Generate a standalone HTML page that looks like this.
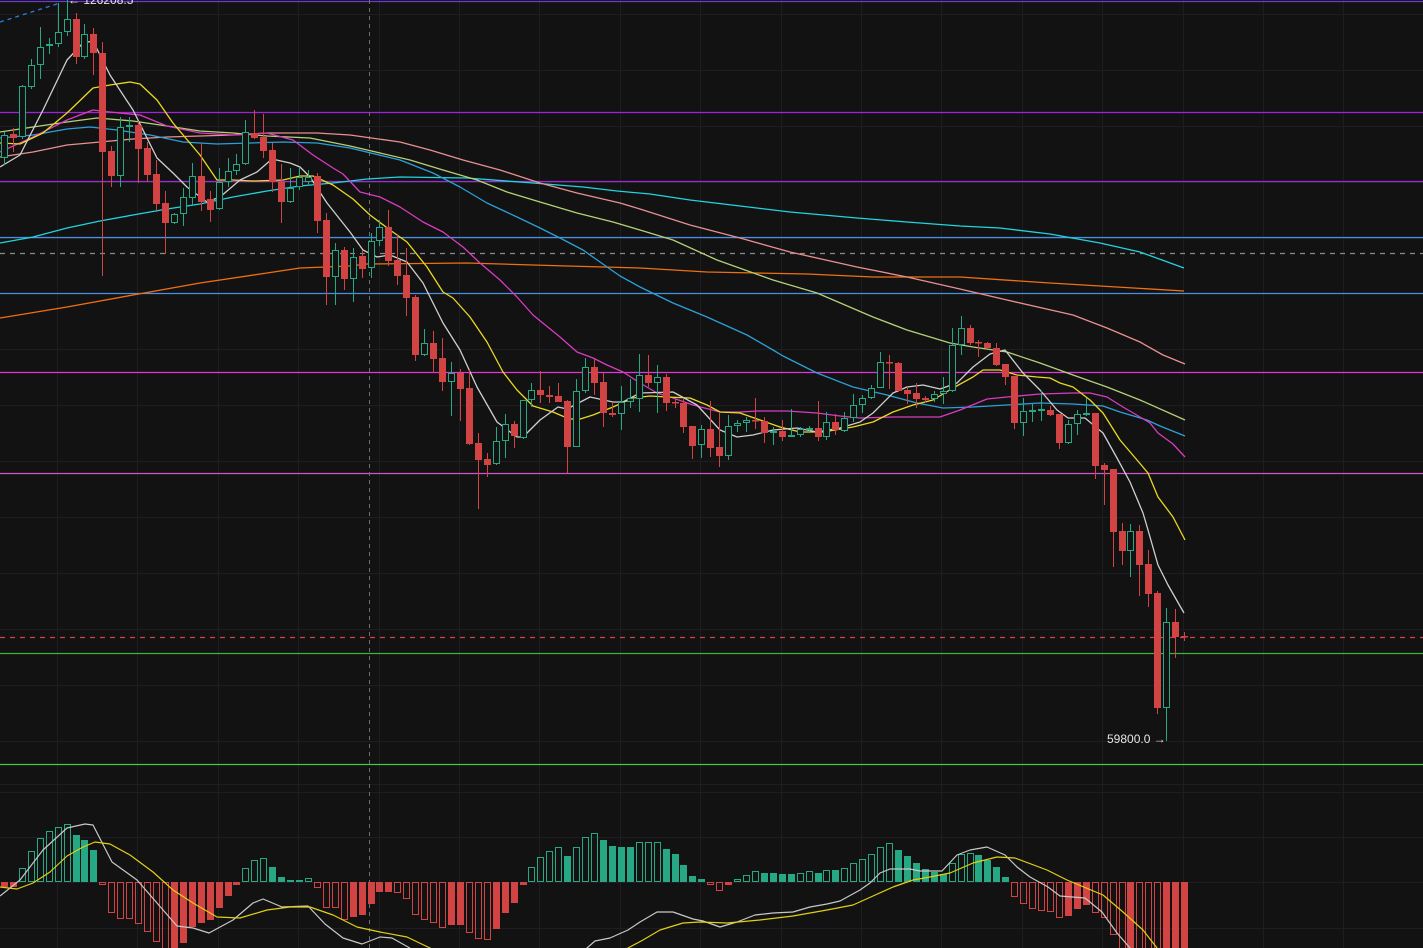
<!DOCTYPE html>
<html>
<head>
<meta charset="utf-8">
<style>
html,body{margin:0;padding:0;background:#121212;}
body{width:1423px;height:948px;overflow:hidden;}
svg{display:block;}
text{font-family:"Liberation Sans",sans-serif;}
</style>
</head>
<body>
<svg id="c" width="1423" height="948" viewBox="0 0 1423 948" xmlns="http://www.w3.org/2000/svg">
<rect width="1423" height="948" fill="#121212"/>
<g id="grid"></g>
<g id="hl"></g>
<g id="ma"></g>
<g id="cd"></g>
<g id="mc"></g>
<text x="1107" y="743" font-size="12" fill="#e6e6e6">59800.0 →</text>
<text x="68" y="4" font-size="12" fill="#e6e6e6">←  126208.5</text>
</svg>
<script>
(function(){
var NS='http://www.w3.org/2000/svg';
function X(i){return 4+8.94*i;}
var g='',i,k;
// grid
for(k=0;k<17;k++){var gx=Math.round(57+80.4*k)+0.5;g+='<line x1="'+gx+'" y1="0" x2="'+gx+'" y2="948" stroke="#1e1e22" stroke-width="1"/>';}
var hy=[14,70,126,182,238,293,349,405,461,517,573,629,685,741,784,792,837,882,928];
hy.forEach(function(y){g+='<line x1="0" y1="'+(y+0.5)+'" x2="1423" y2="'+(y+0.5)+'" stroke="#1e1e22" stroke-width="1"/>';});
document.getElementById('grid').innerHTML=g;

// horizontal level lines
var h='';
function L(y,c,d){h+='<line x1="0" y1="'+y+'" x2="1423" y2="'+y+'" stroke="'+c+'" stroke-width="1.2"'+(d?' stroke-dasharray="'+d+'"':'')+'/>';}
L(1.5,'#6c3bd6');
L(112.5,'#a420e0');
L(181.5,'#9c2cd4');
L(237.5,'#4a8fe0');
L(293.5,'#4a8fe0');
L(372.5,'#e236d6');
L(473.5,'#d055c8');
L(653.5,'#3cb43c');
L(764.5,'#48c848');
L(253.5,'#8a8a8a','5,5');
L(637.5,'#d04545','5,5');
h+='<line x1="369.5" y1="0" x2="369.5" y2="948" stroke="#6e6e6e" stroke-width="1" stroke-dasharray="4,4"/>';
h+='<line x1="0" y1="22" x2="60" y2="3" stroke="#2b7fd8" stroke-width="1.3" stroke-dasharray="4,4"/>';
document.getElementById('hl').innerHTML=h;

// moving averages
function P(pts,c,w){var s='';for(var j=0;j<pts.length;j+=2){s+=(j?' ':'')+pts[j]+','+pts[j+1];}return '<polyline points="'+s+'" fill="none" stroke="'+c+'" stroke-width="'+(w||1.3)+'" stroke-linejoin="round"/>';}
var m='';
m+=P([0,318,67,307,133,295,200,283,267,273,300,268,350,266,367,264,467,263,567,266,640,268,707,272,807,274,873,277,960,277,1050,283,1100,286,1184,291],'#f07010');
m+=P([0,243,33,237,67,228,100,221,133,215,167,209,200,204,233,197,267,191,300,186,333,183,367,179,400,177,467,178,533,183,583,187,617,191,650,194,690,200,740,206,790,212,857,218,907,222,960,226,1000,228,1050,234,1100,243,1140,252,1184,268],'#20d4e0');
m+=P([0,157,33,152,67,145,100,142,133,139,167,137,200,136,233,135,267,133,317,133,350,135,400,142,430,150,463,160,500,170,540,183,577,193,620,203,640,209,690,225,740,238,790,252,857,267,907,277,960,289,1007,300,1073,315,1107,328,1140,342,1163,355,1185,364],'#e89090');
m+=P([0,132,33,127,67,122,97,118,133,121,167,126,200,131,233,133,267,136,310,138,350,146,410,160,443,170,477,180,507,192,540,202,577,213,613,222,640,230,673,240,717,260,773,280,817,293,873,317,907,330,950,343,973,347,1007,352,1040,363,1073,375,1107,387,1140,400,1185,420],'#b4d078');
m+=P([0,138,33,135,67,129,90,127,117,130,150,135,183,142,217,144,250,143,283,142,317,143,350,148,400,160,433,173,460,187,487,203,517,217,540,228,560,238,583,250,600,262,620,276,640,287,673,303,707,317,747,335,773,350,783,356,817,373,853,387,887,395,917,403,943,408,973,407,1007,405,1040,403,1073,404,1103,406,1120,412,1147,420,1160,426,1185,436],'#2c9fd8');
m+=P([0,152,33,137,67,120,93,110,110,112,140,115,167,126,200,133,233,135,267,133,293,140,313,155,333,168,343,174,360,192,380,197,400,207,423,222,443,232,463,247,480,263,500,280,517,297,533,315,560,337,577,352,593,358,607,365,623,372,640,383,657,393,673,398,693,405,720,412,740,412,757,411,787,411,817,413,840,416,860,418,893,417,940,417,960,410,987,399,1007,397,1040,394,1073,393,1090,393,1107,397,1123,407,1140,417,1150,423,1158,433,1173,444,1185,457],'#d83cc0');
m+=P([0,143,20,144,43,133,67,113,93,88,110,85,130,82,140,84,157,100,173,123,200,155,217,180,233,180,253,181,283,180,300,176,313,176,333,185,353,199,370,215,390,230,407,242,427,267,443,292,453,298,470,317,487,342,503,372,517,390,533,406,553,412,567,418,577,420,593,415,613,407,633,398,650,396,667,397,690,398,707,405,720,412,740,413,760,420,780,427,800,432,823,432,853,427,873,422,893,412,913,405,933,400,953,388,973,377,983,370,1000,370,1017,375,1037,377,1050,378,1060,383,1073,387,1090,400,1103,413,1120,440,1137,460,1148,473,1158,497,1173,517,1185,540],'#ecd820');
m+=P([0,167,20,155,43,110,67,60,83,43,93,41,110,75,133,110,157,158,173,173,187,187,207,202,220,197,240,180,257,172,272,159,290,163,300,167,310,177,327,203,350,232,363,250,377,257,390,255,407,262,423,283,443,323,460,350,477,387,497,422,517,437,523,437,540,420,558,407,567,409,590,397,613,402,623,402,640,393,673,392,697,405,720,430,737,437,753,435,773,430,797,428,817,432,840,428,860,422,873,413,893,393,907,387,923,385,940,389,957,383,973,367,990,354,1005,350,1023,373,1040,390,1057,410,1068,418,1085,418,1103,433,1117,458,1130,482,1143,513,1148,530,1158,565,1168,585,1184,613],'#cfcfcf');
document.getElementById('ma').innerHTML=m;

// candles [color, bodyTop, bodyBottom, wickTop, wickBottom]
var C=[
['g',135,158,132,165],['r',134,138,128,152],['g',86,137,85,139],['g',65,87,59,89],['g',47,65,27,79],
['g',44,46,38,54],['g',32,44,3,47],['g',19,32,0,36],['r',19,57,13,64],['g',34,57,24,59],
['r',34,53,28,75],['r',53,152,42,276],['r',151,176,146,187],['g',127,176,117,187],['g',125,127,117,142],
['r',125,149,121,183],['r',148,175,142,182],['r',174,204,160,212],['r',203,223,191,254],['g',214,223,213,224],
['g',197,214,188,226],['g',176,198,163,206],['r',176,202,143,211],['r',199,210,191,222],['g',182,209,168,210],
['g',171,182,158,187],['g',164,171,154,175],['g',132,164,120,165],['r',133,138,110,139],['r',137,151,114,158],
['r',150,182,143,192],['r',182,202,164,223],['g',188,202,168,203],['g',177,187,167,190],['g',177,182,170,186],
['r',176,221,173,233],['r',220,277,213,305],['g',250,277,243,305],['r',250,279,247,290],['g',257,279,248,302],
['r',256,269,250,278],['g',241,268,233,278],['g',227,241,220,246],['r',227,261,210,266],['r',260,276,234,285],
['r',275,298,248,316],['r',297,355,295,361],['g',343,355,329,356],['r',343,359,331,372],['r',358,382,338,391],
['g',373,382,362,416],['r',373,389,369,421],['r',388,444,370,445],['r',443,460,433,509],['r',459,465,453,477],
['g',441,464,427,465],['g',424,441,414,458],['r',424,436,421,448],['g',400,438,400,439],['g',390,400,383,407],
['r',390,395,371,403],['r',395,397,386,403],['r',396,402,383,402],['r',401,447,400,473],['g',391,447,379,447],
['g',367,391,358,393],['r',367,383,359,395],['r',382,413,373,427],['r',413,415,403,417],['g',402,414,386,430],
['g',398,402,379,408],['g',375,399,354,412],['r',375,383,355,387],['g',377,383,365,413],['r',377,403,374,411],
['r',402,403,398,408],['r',403,427,399,433],['r',426,446,426,459],['g',429,445,425,458],['r',429,448,401,457],
['r',447,456,413,467],['g',426,456,415,460],['g',423,426,420,432],['g',420,423,417,432],['r',420,421,398,429],
['r',421,433,417,443],['g',431,433,427,445],['r',431,437,420,441],['g',435,437,409,437],['g',429,435,427,437],
['g',428,430,426,432],['r',428,437,401,441],['g',422,437,412,440],['r',422,430,414,435],['g',418,431,412,432],
['g',405,418,394,422],['g',398,405,395,413],['g',388,398,385,399],['g',362,388,352,388],['r',362,363,355,389],
['r',363,391,362,392],['r',390,394,387,404],['r',393,399,383,408],['r',398,400,396,403],['g',394,399,391,402],
['g',391,394,377,404],['g',345,391,328,392],['g',328,345,316,355],['r',328,343,325,345],['r',342,343,340,357],
['r',343,348,342,349],['r',348,365,343,366],['r',364,377,364,385],['r',376,423,376,429],['g',411,423,398,436],
['g',410,412,403,422],['g',409,411,391,421],['r',410,415,406,416],['r',414,443,414,449],['g',424,443,420,444],
['g',414,424,410,435],['g',413,415,398,416],['r',413,466,413,479],['r',465,470,463,505],['r',469,532,469,567],
['r',531,551,523,565],['g',531,551,524,577],['r',531,565,525,596],['r',564,594,550,607],['r',593,708,591,714],
['g',622,708,608,741],['r',622,637,609,658],['r',636,637,632,641]
];
var RED='#d24444',GRN='#25a883';
var s='';
for(i=0;i<C.length;i++){
 var c=C[i],cx=Math.round(X(i))+0.5,col=c[0]=='g'?GRN:RED,bt=c[1],bb=c[2],wt=c[3],wb=c[4];
 if(c[0]=='g' && bb-bt>=3){
  if(wt<bt) s+='<line x1="'+cx+'" y1="'+wt+'" x2="'+cx+'" y2="'+bt+'" stroke="'+col+'" stroke-width="1"/>';
  if(wb>bb) s+='<line x1="'+cx+'" y1="'+bb+'" x2="'+cx+'" y2="'+wb+'" stroke="'+col+'" stroke-width="1"/>';
  s+='<rect x="'+(cx-3)+'" y="'+(bt+0.5)+'" width="6" height="'+(bb-bt-1)+'" fill="#121212" stroke="'+col+'" stroke-width="1"/>';
 } else {
  s+='<line x1="'+cx+'" y1="'+wt+'" x2="'+cx+'" y2="'+wb+'" stroke="'+col+'" stroke-width="1"/>';
  s+='<rect x="'+(cx-3.5)+'" y="'+bt+'" width="7" height="'+Math.max(1.5,bb-bt)+'" fill="'+col+'"/>';
 }
}
document.getElementById('cd').innerHTML=s;

// MACD histogram
var H=[
['rf',887],['rf',887],['gh',868],['gh',851],['gh',838],['gh',831],['gh',827],['gh',824],['gf',835],['gf',840],
['gf',850],['rh',885],['rh',913],['rh',919],['rh',919],['rh',924],['rh',932],['rh',942],['rh',950],['rf',950],
['rf',943],['rf',927],['rf',923],['rf',920],['rf',908],['rf',896],['rf',885],['gh',868],['gh',860],['gh',858],
['gf',867],['gf',877],['gf',880],['gf',880],['gh',878],['rh',888],['rh',908],['rh',908],['rh',920],['rf',917],
['rf',915],['rf',904],['rf',892],['rf',892],['rh',893],['rh',899],['rh',915],['rh',920],['rh',923],['rh',928],
['rf',925],['rf',925],['rh',933],['rh',939],['rh',940],['rf',929],['rf',913],['rf',903],['rf',885],['gh',867],
['gh',857],['gh',851],['gh',847],['gf',856],['gh',847],['gh',837],['gh',833],['gf',840],['gf',846],['gf',847],
['gf',847],['gh',842],['gh',842],['gh',842],['gf',849],['gf',854],['gf',865],['gf',876],['gf',879],['rh',885],
['rh',891],['rf',885],['gh',879],['gh',875],['gh',871],['gf',873],['gf',873],['gf',874],['gf',874],['gh',873],
['gh',871],['gf',873],['gh',870],['gf',870],['gh',868],['gh',863],['gh',859],['gh',854],['gh',847],['gh',843],
['gf',850],['gf',856],['gf',863],['gf',869],['gf',872],['gf',874],['gh',863],['gh',854],['gh',853],['gf',855],
['gf',860],['gf',867],['gf',877],['rh',897],['rh',904],['rh',909],['rh',911],['rh',912],['rh',918],['rf',916],
['rf',909],['rf',905],['rh',913],['rh',918],['rh',935],['rh',952],['rf',952],['rh',952],['rh',952],['rh',952],
['rf',952],['rf',952],['rf',952]
];
var Z=882,t='';
for(i=0;i<H.length;i++){
 var b=H[i],cx2=Math.round(X(i)),colr=b[0][0]=='g'?GRN:RED,top=Math.min(b[1],Z),bot=Math.max(b[1],Z);
 var ht=Math.max(2,bot-top);
 if(b[0][1]=='h' && ht>=3){
  t+='<rect x="'+(cx2-2.5)+'" y="'+(top+0.5)+'" width="6" height="'+(ht-1)+'" fill="none" stroke="'+colr+'" stroke-width="1"/>';
 } else {
  t+='<rect x="'+(cx2-3)+'" y="'+top+'" width="7" height="'+ht+'" fill="'+colr+'"/>';
 }
}
t+=P([0,896,20,880,43,850,67,828,85,824,93,825,112,862,137,880,157,903,177,926,193,928,209,933,233,920,253,903,263,899,282,907,308,906,325,924,343,938,362,944,380,937,392,938,408,947,420,955,450,975,500,990,560,965,587,948,595,941,610,938,628,930,640,922,657,912,673,912,693,919,703,921,720,927,737,922,755,915,773,913,793,912,810,907,827,904,840,901,860,890,870,883,880,873,890,869,910,869,920,871,942,871,957,855,970,850,987,847,1005,855,1017,867,1030,877,1048,887,1060,896,1085,898,1102,912,1117,933,1130,948,1140,965],'#c8c8c8',1.2);
t+=P([0,887,17,889,33,883,50,872,67,856,83,847,95,842,110,844,130,855,153,872,173,890,193,903,217,917,240,918,267,910,290,907,310,907,333,915,357,927,380,932,407,937,430,948,470,965,540,975,600,960,628,948,643,940,660,930,683,923,700,922,727,923,760,920,793,916,827,910,853,905,873,896,893,887,913,880,930,877,950,873,973,863,997,857,1015,858,1047,870,1067,880,1103,895,1123,912,1143,930,1157,948,1165,960],'#e2d012',1.2);
document.getElementById('mc').innerHTML=t;
})();
</script>
</body>
</html>
